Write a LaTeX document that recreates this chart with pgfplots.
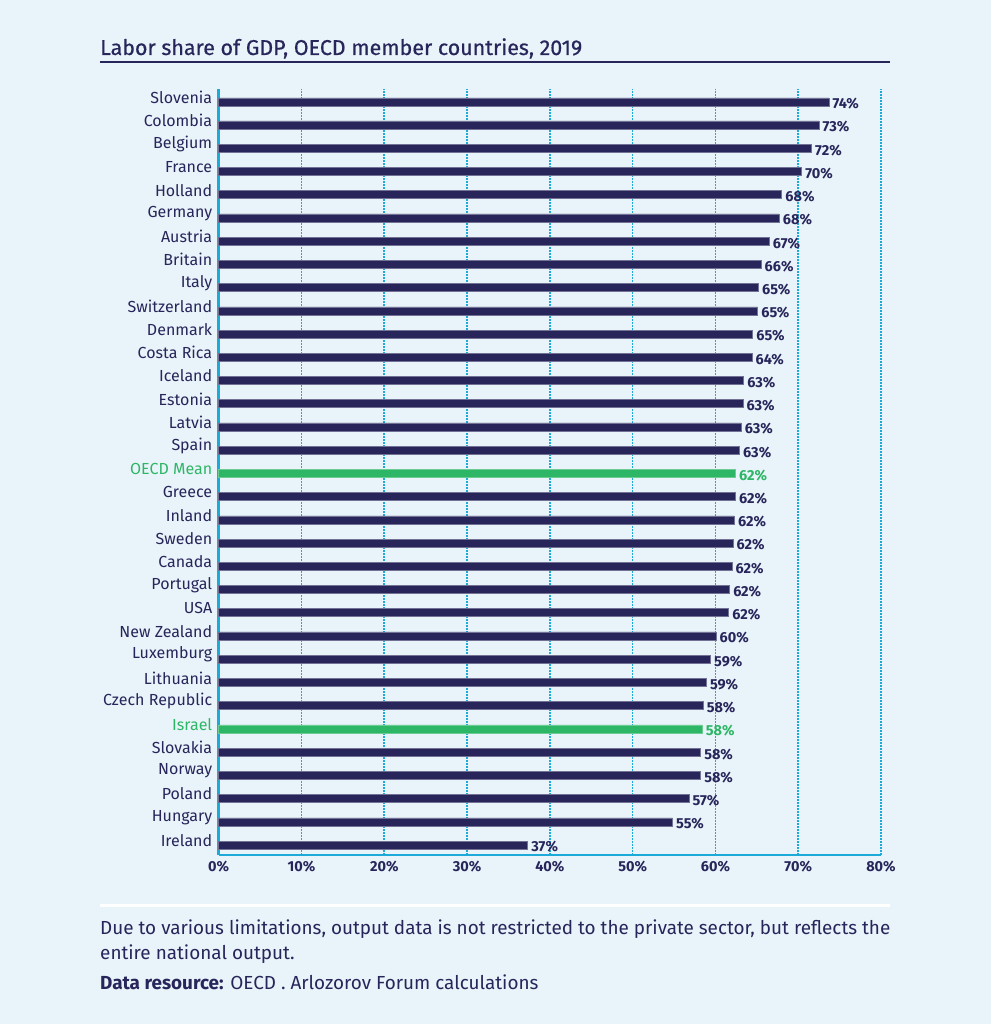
\documentclass[border=0pt]{standalone}
\usepackage{fontspec}
\setmainfont{Fira Sans}
\newfontfamily\titlefont[FakeBold=0.6]{Fira Sans}
\usepackage{pgfplots}
\usepackage{pgfplotstable}
\pgfplotsset{compat=1.18}
\definecolor{navy}{HTML}{27255A}
\definecolor{grn}{HTML}{2DB665}
\definecolor{cyn}{HTML}{1CAAD9}
\definecolor{bgc}{HTML}{E9F4FA}

\pgfplotstableread{
y x lab
0 37.3 37\%
1 54.8 55\%
2 56.8 57\%
3 58.2 58\%
4 58.2 58\%
6 58.5 58\%
7 58.9 59\%
8 59.4 59\%
9 60.05 60\%
10 61.6 62\%
11 61.7 62\%
12 62.0 62\%
13 62.1 62\%
14 62.3 62\%
15 62.4 62\%
17 62.9 63\%
18 63.1 63\%
19 63.3 63\%
20 63.4 63\%
21 64.4 64\%
22 64.5 65\%
23 65.1 65\%
24 65.2 65\%
25 65.5 66\%
26 66.5 67\%
27 67.7 68\%
28 68.0 68\%
29 70.4 70\%
30 71.6 72\%
31 72.5 73\%
32 73.7 74\%
}\navydata

\pgfplotstableread{
y x lab
5 58.4 58\%
16 62.4 62\%
}\greendata

\begin{document}
\begin{tikzpicture}[x=1pt,y=1pt]
\fill[bgc] (0pt,0pt) rectangle (991pt,1024pt);
% title
\node[anchor=base west, inner sep=0, text=navy, font=\titlefont\fontsize{21.4}{25}\selectfont] at (100pt,969pt) {Labor share of GDP, OECD member countries, 2019};
\fill[navy] (100pt,960.7pt) rectangle (890pt,962.7pt);
% separator
\fill[white] (100pt,116.5pt) rectangle (890pt,119.5pt);
% footnote
\node[anchor=base west, inner sep=0, text=navy, font=\fontsize{18.9}{22}\selectfont] at (100pt,89pt) {Due to various limitations, output data is not restricted to the private sector, but reflects the};
\node[anchor=base west, inner sep=0, text=navy, font=\fontsize{18.9}{22}\selectfont] at (100pt,64.7pt) {entire national output.};
\node[anchor=base west, inner sep=0, text=navy, font=\fontsize{18.9}{22}\selectfont] at (100pt,34pt) {\textbf{Data resource:} OECD . Arlozorov Forum calculations};

\begin{axis}[
  at={(218.7pt,169pt)}, anchor=south west,
  scale only axis, width=662.3pt, height=766pt,
  xmin=0, xmax=80, ymin=-0.43, ymax=32.55,
  xbar, bar width=8pt, bar shift=0pt,
  axis lines=left,
  axis line style={-, cyn, line width=2.6pt},
  xtick={0,10,...,80},
  xticklabels={0\%,10\%,20\%,30\%,40\%,50\%,60\%,70\%,80\%},
  xticklabel style={text=navy, font=\fontsize{14.5}{16}\selectfont\bfseries, yshift=-3pt},
  ytick={0,...,32},
  yticklabels={Ireland,Hungary,Poland,Norway,Slovakia,{\textcolor{grn}{Israel}},Czech Republic,Lithuania,Luxemburg,New Zealand,USA,Portugal,Canada,Sweden,Inland,Greece,{\textcolor{grn}{OECD Mean}},Spain,Latvia,Estonia,Iceland,Costa Rica,Denmark,Switzerland,Italy,Britain,Austria,Germany,Holland,France,Belgium,Colombia,Slovenia},
  yticklabel style={text=navy, font=\fontsize{16}{18}\selectfont, xshift=-3pt, yshift=4.5pt},
  major tick length=0pt,
  xmajorgrids,
  major grid style={draw=cyn, line width=1.6pt, dash pattern=on 1.6pt off 1.4pt},
  point meta=explicit symbolic,
  nodes near coords,
  nodes near coords style={font=\fontsize{14.5}{16}\selectfont\bfseries, anchor=west, inner sep=2pt, xshift=1.5pt, yshift=-2pt},
  clip=false,
]
\addplot[fill=navy, draw=navy!65!white, line width=0.5pt, nodes near coords style={text=navy}] table[x=x, y=y, meta=lab] {\navydata};
\addplot[fill=grn, draw=grn!70!white, line width=0.5pt, nodes near coords style={text=grn}] table[x=x, y=y, meta=lab] {\greendata};
\end{axis}
\end{tikzpicture}
\end{document}
